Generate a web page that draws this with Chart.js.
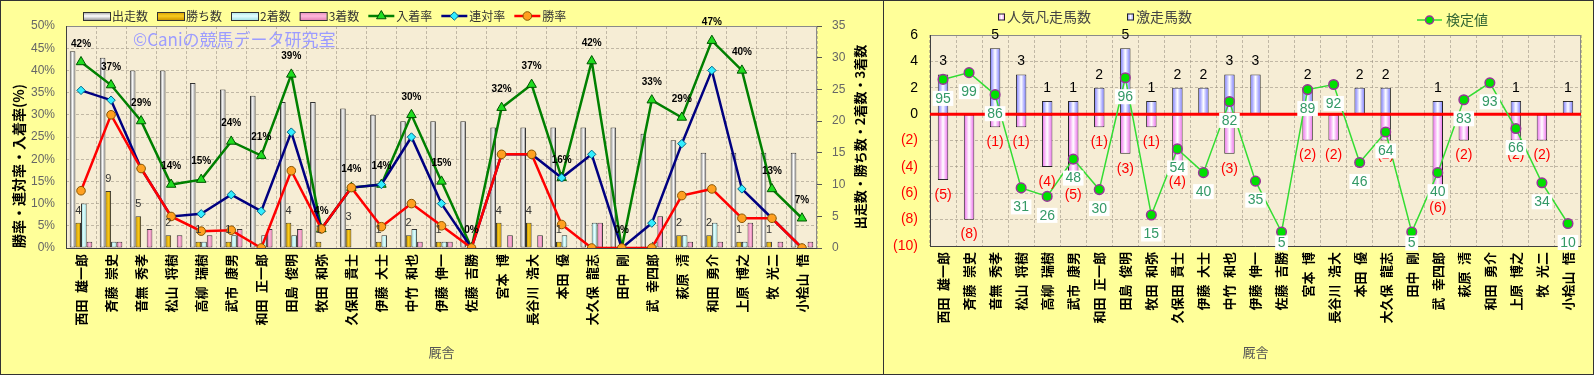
<!DOCTYPE html>
<html><head><meta charset="utf-8">
<script src="https://cdn.jsdelivr.net/npm/chart.js@4.4.1/dist/chart.umd.min.js"></script>
<style>
html,body{margin:0;padding:0;background:#FFFF99;overflow:hidden;}
#c1{position:absolute;left:0;top:0;}
#c2{position:absolute;left:883px;top:0;}
</style></head><body>
<canvas id="c1" width="884" height="375"></canvas>
<canvas id="c2" width="711" height="375"></canvas>
<script>
// ---------- data ----------
const trainers = ['西田 雄一郎','斉藤 崇史','音無 秀孝','松山 将樹','高柳 瑞樹','武市 康男','和田 正一郎','田島 俊明','牧田 和弥','久保田 貴士','伊藤 大士','中竹 和也','伊藤 伸一','佐藤 吉勝','宮本 博','長谷川 浩大','本田 優','大久保 龍志','田中 剛','武 幸四郎','萩原 清','和田 勇介','上原 博之','牧 光二','小桧山 悟'];
const runs    = [31,30,28,28,26,25,24,23,23,22,21,20,20,20,19,19,19,19,19,18,17,15,15,15,15];
const wins    = [4,9,5,2,1,1,0,4,1,3,1,2,1,0,4,4,1,0,0,0,2,2,1,1,0];
const seconds = [7,1,0,0,1,2,2,2,0,0,2,3,1,0,0,0,2,4,0,1,2,4,1,0,0];
const thirds  = [1,1,3,2,2,3,3,3,0,0,0,1,1,0,2,2,0,4,0,5,1,1,4,1,1];
const placeRate  = [41.9,36.7,28.6,14.3,15.4,24.0,20.8,39.1,4.3,13.6,14.3,30.0,15.0,0,31.6,36.8,15.8,42.1,0,33.3,29.4,46.7,40.0,13.3,6.7];
const rentaiRate = [35.5,33.3,17.9,7.1,7.7,12.0,8.3,26.1,4.3,13.6,14.3,25.0,10.0,0,21.1,21.1,15.8,21.1,0,5.6,23.5,40.0,13.3,6.7,0];
const winRate    = [12.9,30.0,17.9,7.1,3.8,4.0,0,17.4,4.3,13.6,4.8,10.0,5.0,0,21.1,21.1,5.3,0,0,0,11.8,13.3,6.7,6.7,0];
const rateTickLabels  = ['0%','5%','10%','15%','20%','25%','30%','35%','40%','45%','50%'];
const countTickLabels = ['0','5','10','15','20','25','30','35'];

const surge = [3,0,5,3,1,1,2,5,1,2,2,3,3,0,2,0,2,2,0,1,0,0,1,0,1];
const flop  = [-5,-8,-1,-1,-4,-5,-1,-3,-1,-4,0,-3,0,0,-2,-2,0,-2,0,-6,-2,0,-2,-2,0];
const testValues = [95,99,86,31,26,48,30,96,15,54,40,82,35,5,89,92,46,64,5,40,83,93,66,34,10];
const scoreTickLabels = ['(10)','(8)','(6)','(4)','(2)','0','2','4','6'];

// ---------- styling helpers ----------
const JP = "'Noto Sans CJK JP', 'Noto Sans CJK SC', sans-serif";
const LAT = "'Liberation Sans', Arial, sans-serif";
const GRID = 'rgba(150,140,125,0.55)';
const nameLabel = (v, i) => trainers[i].replace(' ', '\u2002');

function marker(ctx, style, r, x, y) {
  ctx.beginPath();
  if (style === 'triangle') {
    for (let k = 0; k < 3; k++) {
      const a = -Math.PI/2 + k*2*Math.PI/3;
      const px = x + Math.cos(a)*r, py = y + Math.sin(a)*r;
      k ? ctx.lineTo(px, py) : ctx.moveTo(px, py);
    }
    ctx.closePath();
  } else if (style === 'rectRot') {
    ctx.moveTo(x, y - r); ctx.lineTo(x + r, y); ctx.lineTo(x, y + r); ctx.lineTo(x - r, y); ctx.closePath();
  } else {
    ctx.arc(x, y, r, 0, Math.PI*2);
  }
  ctx.fill(); ctx.stroke();
}

const panelPlugin = {
  id: 'panel',
  beforeDraw(chart) {
    const {ctx, width, height, chartArea: a} = chart;
    ctx.save();
    ctx.fillStyle = '#FFFF99'; ctx.fillRect(0, 0, width, height);
    ctx.fillStyle = '#F6EDD5'; ctx.fillRect(a.left, a.top, a.right - a.left, a.bottom - a.top);
    ctx.restore();
  },
  beforeDatasetsDraw(chart) {
    const {ctx, chartArea: a} = chart;
    ctx.save();
    ctx.strokeStyle = '#8A8A8A'; ctx.lineWidth = 1;
    ctx.strokeRect(Math.round(a.left) + 0.5, Math.round(a.top) + 0.5, Math.round(a.right - a.left) - 1, Math.round(a.bottom - a.top));
    ctx.strokeStyle = '#404040';
    ctx.beginPath();
    ctx.moveTo(Math.round(a.left) + 0.5, a.top); ctx.lineTo(Math.round(a.left) + 0.5, a.bottom);
    ctx.moveTo(a.left, Math.round(a.bottom) + 0.5); ctx.lineTo(a.right, Math.round(a.bottom) + 0.5);
    ctx.stroke();
    ctx.restore();
  },
  afterDraw(chart) {
    const {ctx, width, height} = chart;
    ctx.save();
    ctx.strokeStyle = '#333'; ctx.lineWidth = 1;
    ctx.strokeRect(0.5, 0.5, width - 1, height - 1);
    ctx.restore();
  }
};

const shadePlugin = {
  id: 'shade',
  afterDatasetDraw(chart, args) {
    const ds = chart.data.datasets[args.index];
    if (!ds.shade) return;
    const ctx = chart.ctx;
    ctx.save();
    args.meta.data.forEach(el => {
      const {x, y, base, width} = el.getProps(['x','y','base','width'], true);
      const top = Math.min(y, base), h = Math.abs(base - y);
      if (h < 2.5) return;
      const l = x - width/2 + 1, w = width - 2;
      const g = ctx.createLinearGradient(l, 0, l + w, 0);
      g.addColorStop(0, ds.shade[0]); g.addColorStop(0.5, ds.shade[1]); g.addColorStop(1, ds.shade[0]);
      ctx.fillStyle = g;
      ctx.fillRect(l, top + 1, w, h - 2);
    });
    if (ds.zeroLineAfter) {
      const a = chart.chartArea, y0 = chart.scales.y.getPixelForValue(0);
      ctx.strokeStyle = '#FF0000'; ctx.lineWidth = 3;
      ctx.beginPath(); ctx.moveTo(a.left, y0); ctx.lineTo(a.right, y0); ctx.stroke();
    }
    ctx.restore();
  }
};

// ---------- left chart ----------
const leftDecor = {
  id: 'leftDecor',
  afterDraw(chart) {
    const ctx = chart.ctx, a = chart.chartArea, ds = chart.data.datasets;
    ctx.save();
    // watermark
    ctx.font = `17px ${JP}`; ctx.fillStyle = '#9C9CFF'; ctx.textAlign = 'left'; ctx.textBaseline = 'middle';
    ctx.fillText('©Caniの競馬データ研究室', 133, 40);
    // place-rate labels
    ctx.font = `bold 10px ${LAT}`; ctx.fillStyle = '#000'; ctx.textAlign = 'center';
    chart.getDatasetMeta(0).data.forEach((p, i) => {
      ctx.fillText(Math.round(placeRate[i]) + '%', p.x, p.y - 18);
    });
    // win count labels
    ctx.font = `11px ${LAT}`; ctx.fillStyle = '#333';
    chart.getDatasetMeta(4).data.forEach((b, i) => {
      if (wins[i] > 0) ctx.fillText(String(wins[i]), b.x, b.y - 12);
    });
    // legend
    const order = [3,4,5,6,0,1,2];
    let x = 83; const y = 16;
    ctx.font = `12px ${JP}`; ctx.textAlign = 'left'; ctx.textBaseline = 'middle';
    order.forEach(i => {
      const d = ds[i];
      if (d.type === 'line') {
        ctx.strokeStyle = d.borderColor; ctx.lineWidth = 2.5;
        ctx.beginPath(); ctx.moveTo(x, y); ctx.lineTo(x + 26, y); ctx.stroke();
        ctx.fillStyle = d.pointBackgroundColor; ctx.strokeStyle = d.pointBorderColor; ctx.lineWidth = 1;
        marker(ctx, d.pointStyle, d.pointRadius, x + 13, y);
        x += 28;
      } else {
        const g = ctx.createLinearGradient(0, y - 4, 0, y + 4);
        g.addColorStop(0, d.shade[0]); g.addColorStop(0.5, d.shade[1]); g.addColorStop(1, d.shade[0]);
        ctx.fillStyle = g; ctx.fillRect(x, y - 4, 27, 8);
        ctx.strokeStyle = '#333'; ctx.lineWidth = 1; ctx.strokeRect(x + 0.5, y - 4 + 0.5, 27, 8);
        x += 29;
      }
      ctx.fillStyle = '#333';
      ctx.fillText(d.label, x, y);
      x += ctx.measureText(d.label).width + 9;
    });
    // axis titles
    ctx.fillStyle = '#000';
    ctx.save(); ctx.translate(19, a.bottom); ctx.rotate(-Math.PI/2);
    ctx.font = `bold 14px ${JP}`; ctx.textAlign = 'left';
    ctx.fillText('勝率・連対率・入着率(%)', 0, 0); ctx.restore();
    ctx.save(); ctx.translate(860, (a.top + a.bottom)/2); ctx.rotate(-Math.PI/2);
    ctx.font = `bold 13px ${JP}`; ctx.textAlign = 'center';
    ctx.fillText('出走数・勝ち数・2着数・3着数', 0, 0); ctx.restore();
    ctx.font = `13px ${JP}`; ctx.fillStyle = '#555'; ctx.textAlign = 'center';
    ctx.fillText('厩舎', (a.left + a.right)/2, 352);
    ctx.restore();
  }
};

new Chart(document.getElementById('c1'), {
  type: 'bar',
  data: {
    labels: trainers,
    datasets: [
      {type:'line', label:'入着率', data: placeRate, yAxisID:'y', borderColor:'#008000', borderWidth:2.5,
       pointStyle:'triangle', pointRadius:5.5, pointBackgroundColor:'#20DD20', pointBorderColor:'#005500', pointBorderWidth:1, order:2},
      {type:'line', label:'連対率', data: rentaiRate, yAxisID:'y', borderColor:'#000080', borderWidth:2.5,
       pointStyle:'rectRot', pointRadius:4.2, pointBackgroundColor:'#33EEFF', pointBorderColor:'#006688', pointBorderWidth:1, order:1},
      {type:'line', label:'勝率', data: winRate, yAxisID:'y', borderColor:'#FF0000', borderWidth:2.5,
       pointStyle:'circle', pointRadius:4.3, pointBackgroundColor:'#FFA020', pointBorderColor:'#8A5500', pointBorderWidth:1, order:0},
      {label:'出走数', data: runs, yAxisID:'y1', backgroundColor:'#E8E8E8', borderColor:'#333', borderWidth:1, borderSkipped:false, shade:['#9C9C9C','#FFFFFF'], order:3},
      {label:'勝ち数', data: wins, yAxisID:'y1', backgroundColor:'#E6B000', borderColor:'#333', borderWidth:1, borderSkipped:false, shade:['#D09A00','#F8CC20'], order:3},
      {label:'2着数', data: seconds, yAxisID:'y1', backgroundColor:'#CCFFFF', borderColor:'#333', borderWidth:1, borderSkipped:false, shade:['#A8E4E4','#E4FFFF'], order:3},
      {label:'3着数', data: thirds, yAxisID:'y1', backgroundColor:'#FF99CC', borderColor:'#333', borderWidth:1, borderSkipped:false, shade:['#E688B8','#FFB8DC'], order:3}
    ]
  },
  options: {
    responsive:false, animation:false, events:[],
    categoryPercentage:0.75, barPercentage:1.0,
    layout:{padding:{top:26, left:0, right:0, bottom:0}},
    plugins:{legend:{display:false}, tooltip:{enabled:false}},
    scales:{
      x:{
        grid:{color:GRID, drawTicks:false, offset:true},
        border:{display:false, dash:[3,2]},
        ticks:{font:{family:JP, size:13, weight:'bold'}, color:'#000', minRotation:90, maxRotation:90, padding:6, autoSkip:false, callback:nameLabel},
        afterFit(s){ s.height = 127; }
      },
      y:{
        position:'left', min:0, max:50,
        ticks:{stepSize:5, callback:(v,i)=>rateTickLabels[i], font:{family:LAT, size:12}, color:'#666', padding:11},
        grid:{color:GRID, drawTicks:false},
        border:{display:false, dash:[3,2]},
        afterFit(s){ s.width = 66; }
      },
      y1:{
        position:'right', min:0, max:35,
        ticks:{stepSize:5, callback:(v,i)=>countTickLabels[i], font:{family:LAT, size:12}, color:'#666', padding:10},
        grid:{drawOnChartArea:false, drawTicks:true, tickLength:5, color:'#555'},
        border:{display:false},
        afterFit(s){ s.width = 67; }
      }
    }
  },
  plugins:[panelPlugin, shadePlugin, leftDecor]
});

// ---------- right chart ----------
const rightDecor = {
  id:'rightDecor',
  afterDatasetsDraw(chart) {
    const ctx = chart.ctx;
    ctx.save();
    ctx.textAlign = 'center'; ctx.textBaseline = 'middle';
    ctx.font = `14px ${LAT}`;
    ctx.fillStyle = '#000';
    chart.getDatasetMeta(2).data.forEach((b, i) => {
      if (surge[i] > 0) ctx.fillText(String(surge[i]), b.x, b.y - 13);
    });
    ctx.fillStyle = '#FF0000';
    chart.getDatasetMeta(1).data.forEach((b, i) => {
      if (flop[i] < 0) ctx.fillText('(' + (-flop[i]) + ')', b.x, b.y + 15);
    });
    ctx.font = `14px ${LAT}`;
    chart.getDatasetMeta(0).data.forEach((p, i) => {
      const t = String(testValues[i]);
      const w = ctx.measureText(t).width + 5, h = 15;
      const cy = Math.min(p.y + 19, 243);
      ctx.fillStyle = '#FFFFFF';
      ctx.fillRect(p.x - w/2, cy - h/2, w, h);
      ctx.fillStyle = '#339966';
      ctx.fillText(t, p.x, cy + 0.5);
    });
    ctx.restore();
  },
  afterDraw(chart) {
    const ctx = chart.ctx, a = chart.chartArea, ds = chart.data.datasets;
    ctx.save();
    ctx.textAlign = 'left'; ctx.textBaseline = 'middle';
    ctx.font = `14px ${JP}`;
    const items = [[1, 115, 17], [2, 244, 17]];
    items.forEach(([i, x, y]) => {
      const d = ds[i];
      const g = ctx.createLinearGradient(x, 0, x + 7, 0);
      g.addColorStop(0, d.shade[0]); g.addColorStop(0.5, d.shade[1]); g.addColorStop(1, d.shade[0]);
      ctx.fillStyle = g; ctx.fillRect(x, y - 3.5, 7, 7);
      ctx.strokeStyle = '#222'; ctx.lineWidth = 1; ctx.strokeRect(x + 0.5, y - 3.5 + 0.5, 6, 6);
      ctx.fillStyle = '#444'; ctx.fillText(d.label, x + 9, y);
    });
    const ld = ds[0];
    ctx.strokeStyle = ld.borderColor; ctx.lineWidth = 1.5;
    ctx.beginPath(); ctx.moveTo(534, 20); ctx.lineTo(559, 20); ctx.stroke();
    ctx.fillStyle = ld.pointBackgroundColor; ctx.strokeStyle = ld.pointBorderColor; ctx.lineWidth = 1.5;
    marker(ctx, 'circle', 4, 546.5, 20);
    ctx.fillStyle = '#336633'; ctx.fillText(ld.label, 563, 20);
    ctx.font = `13px ${JP}`; ctx.fillStyle = '#555'; ctx.textAlign = 'center';
    ctx.fillText('厩舎', (a.left + a.right)/2, 352);
    ctx.restore();
  }
};

new Chart(document.getElementById('c2'), {
  type:'bar',
  data:{
    labels: trainers,
    datasets:[
      {type:'line', label:'検定値', data: testValues, yAxisID:'y2', borderColor:'#33DD33', borderWidth:1.5,
       pointRadius:4.8, pointBackgroundColor:'#00E000', pointBorderColor:'#993399', pointBorderWidth:1.5, order:0},
      {label:'人気凡走馬数', data: flop, yAxisID:'y', stack:'s', backgroundColor:'#FFB8FF', borderColor:'#222', borderWidth:1, borderSkipped:false, shade:['#F080F0','#FFFFFF'], order:2},
      {label:'激走馬数', data: surge, yAxisID:'y', stack:'s', backgroundColor:'#C0C0FF', borderColor:'#222', borderWidth:1, borderSkipped:false, shade:['#8C8CFF','#FFFFFF'], zeroLineAfter:true, order:1}
    ]
  },
  options:{
    responsive:false, animation:false, events:[],
    categoryPercentage:0.8, barPercentage:0.5,
    layout:{padding:{top:35, left:0, right:13, bottom:0}},
    plugins:{legend:{display:false}, tooltip:{enabled:false}},
    scales:{
      x:{
        stacked:true,
        grid:{color:GRID, drawTicks:false, offset:true},
        border:{display:false, dash:[3,2]},
        ticks:{font:{family:JP, size:13, weight:'bold'}, color:'#000', minRotation:90, maxRotation:90, padding:6, autoSkip:false, callback:nameLabel},
        afterFit(s){ s.height = 129; }
      },
      y:{
        stacked:true, min:-10, max:6,
        ticks:{stepSize:2, callback:(v,i)=>scoreTickLabels[i], font:{family:LAT, size:14},
               color:(c)=> (c.tick && c.tick.value < 0) ? '#FF0000' : '#000', padding:12},
        grid:{color:GRID, drawTicks:false},
        border:{display:false, dash:[3,2]},
        afterFit(s){ s.width = 47; }
      },
      y2:{display:false, min:-3.27, max:121.2}
    }
  },
  plugins:[panelPlugin, shadePlugin, rightDecor]
});
</script>
</body></html>
